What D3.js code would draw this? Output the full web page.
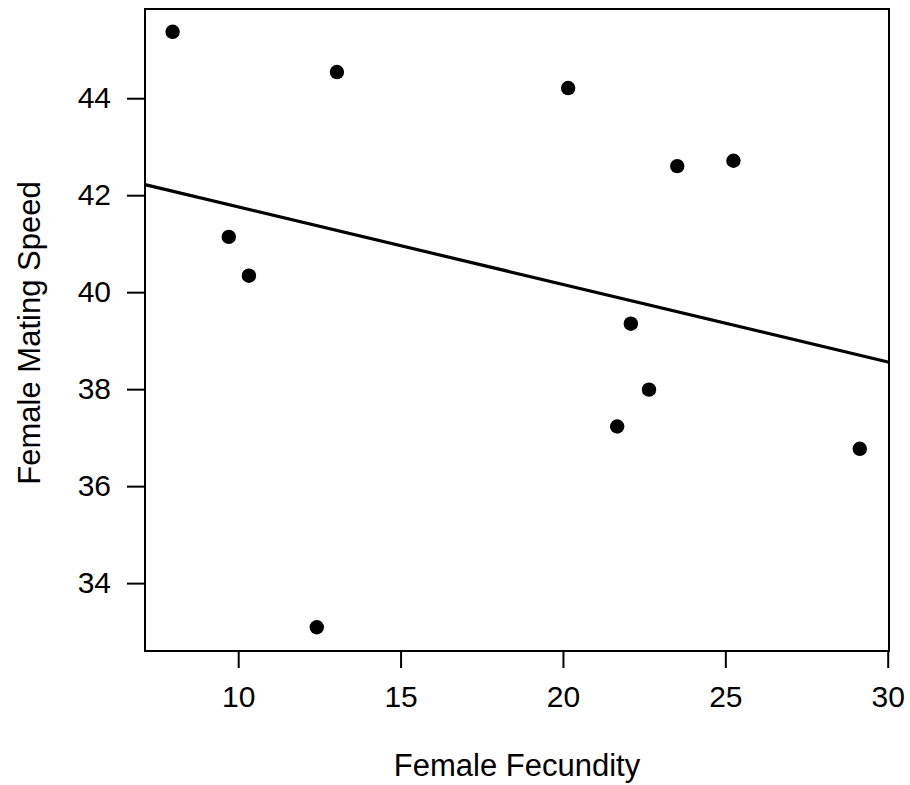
<!DOCTYPE html>
<html>
<head>
<meta charset="utf-8">
<script src="https://cdn.jsdelivr.net/npm/d3@7"></script>
<style>
  html, body { margin: 0; padding: 0; background: #fff; }
  text { font-family: "Liberation Sans", Arial, sans-serif; fill: #000; }
</style>
</head>
<body>
<svg id="chart" width="910" height="785"></svg>
<script>
// Data
const fecundity    = [7.98, 9.71, 10.33, 12.42, 13.04, 20.16, 21.67, 22.09, 22.65, 23.52, 25.25, 29.14];
const matingSpeed  = [45.37, 41.14, 40.34, 33.09, 44.54, 44.21, 37.23, 39.35, 37.99, 42.60, 42.71, 36.77];
const xTicks = [10, 15, 20, 25, 30];
const yTicks = [34, 36, 38, 40, 42, 44];
const xDomain = [7.13, 30.04];
const yDomain = [32.60, 45.84];
// Fitted line shown in the figure (intercept, slope)
const fitIntercept = 43.36;
const fitSlope = -0.160;
const xLabel = "Female Fecundity";
const yLabel = "Female Mating Speed";

const svg = d3.select("#chart");
const m = { left: 145, right: 889, top: 9, bottom: 651 };

const x = d3.scaleLinear().domain(xDomain).range([m.left, m.right]);
const y = d3.scaleLinear().domain(yDomain).range([m.bottom, m.top]);

const tickFont = 30;
const titleFont = 31;

// X axis
const xAxis = svg.append("g")
  .attr("transform", `translate(0,${m.bottom})`)
  .call(d3.axisBottom(x).tickValues(xTicks).tickSize(17).tickPadding(18).tickFormat(d3.format("d")));
xAxis.select(".domain").remove();
xAxis.selectAll(".tick line").attr("stroke", "#000").attr("stroke-width", 2);
xAxis.selectAll(".tick text").attr("font-size", tickFont).attr("font-family", "Liberation Sans, Arial, sans-serif");

// Y axis
const yAxis = svg.append("g")
  .attr("transform", `translate(${m.left},0)`)
  .call(d3.axisLeft(y).tickValues(yTicks).tickSize(18).tickPadding(16).tickFormat(d3.format("d")));
yAxis.select(".domain").remove();
yAxis.selectAll(".tick line").attr("stroke", "#000").attr("stroke-width", 2);
yAxis.selectAll(".tick text").attr("font-size", tickFont).attr("font-family", "Liberation Sans, Arial, sans-serif");

// Plot box
svg.append("rect")
  .attr("x", m.left).attr("y", m.top)
  .attr("width", m.right - m.left).attr("height", m.bottom - m.top)
  .attr("fill", "none").attr("stroke", "#000").attr("stroke-width", 2);

// Fit line across full x domain
svg.append("line")
  .attr("x1", x(xDomain[0])).attr("y1", y(fitIntercept + fitSlope * xDomain[0]))
  .attr("x2", x(xDomain[1])).attr("y2", y(fitIntercept + fitSlope * xDomain[1]))
  .attr("stroke", "#000").attr("stroke-width", 3.2);

// Points
const pts = fecundity.map((v, i) => ({ fx: v, ms: matingSpeed[i] }));
svg.append("g").selectAll("circle").data(pts).join("circle")
  .attr("cx", d => x(d.fx)).attr("cy", d => y(d.ms))
  .attr("r", 7.2).attr("fill", "#000");

// Axis titles
svg.append("text")
  .attr("x", (m.left + m.right) / 2).attr("y", 776)
  .attr("text-anchor", "middle").attr("font-size", titleFont)
  .text(xLabel);

svg.append("text")
  .attr("transform", `translate(40,${(m.top + m.bottom) / 2 + 3}) rotate(-90)`)
  .attr("text-anchor", "middle").attr("font-size", titleFont)
  .text(yLabel);
</script>
</body>
</html>
